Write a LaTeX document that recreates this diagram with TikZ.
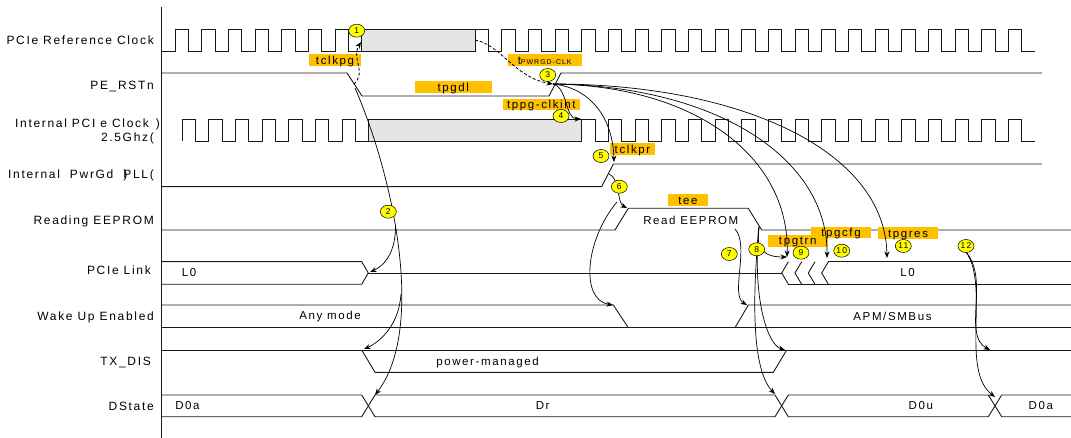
\documentclass[tikz,border=0pt]{standalone}
\usepackage{fontspec}
\setmainfont{Liberation Sans}[LetterSpace=14]
\usetikzlibrary{arrows.meta,shapes.geometric}
\definecolor{TagOrange}{HTML}{FFC000}
\definecolor{StepYellow}{HTML}{FFFF00}

\begin{document}
\begin{tikzpicture}[x=1pt, y=-1pt,
      sig/.style={line width=0.9pt, black!90},
      gated/.style={sig, fill=black!10},
      rowlab/.style={anchor=east, inner sep=0pt, text height=8.6pt, text depth=0pt,
                     font=\fontsize{12}{14}\selectfont},
      buslab/.style={inner sep=0pt, text height=8.2pt, text depth=0pt,
                     font=\fontsize{11.5}{13}\selectfont},
      tbox/.style={fill=TagOrange, inner sep=0pt, minimum height=12pt,
                   text height=8.2pt, text depth=0pt, font=\fontsize{11.5}{13}\selectfont},
      stepno/.style={draw, ellipse, fill=StepYellow, line width=0.5pt, inner sep=0pt,
                     minimum width=16pt, minimum height=13pt,
                     font=\fontsize{8.5}{9}\selectfont},
      ar/.style={-{Stealth[length=6.5pt,width=5pt]}, line width=0.7pt},
      dar/.style={ar, line width=0.8pt, dash pattern=on 3pt off 2pt},
    ]
      \useasboundingbox (0,0) rectangle (1071,438);
      \draw[sig] (161,7) -- (161,438);

      \node[rowlab] (l-refclk) at (154,40) {PCIe Reference Clock};
      \node[rowlab] (l-rst) at (154,85) {PE\_RSTn};
      \node[rowlab] (l-iclk) at (160,123) {Internal PCI e Clock\hspace{7pt})};
      \node[rowlab] (l-iclk2) at (154,137) {2.5Ghz(};
      \node[rowlab] (l-pll) at (154,174.5) {Internal\ \ PwrGd\ \ \rlap{)}PLL(};
      \node[rowlab] (l-ee) at (154,220.5) {Reading EEPROM};
      \node[rowlab] (l-link) at (151,270) {PCIe Link};
      \node[rowlab] (l-wake) at (154,316) {Wake Up Enabled};
      \node[rowlab] (l-txdis) at (151,361) {TX\_DIS};
      \node[rowlab] (l-dstate) at (154,406) {DState};

      \draw[sig] (161,51) foreach \k in {0,...,6} { -- ({175+26.667*\k},51) -- ++(0,-22) -- ++(13.333,0) -- ++(0,22) } -- (361.7,51);
      \draw[gated] (361.7,29) rectangle (475,51);
      \draw[sig] (475,29) foreach \k in {0,...,19} { -- ({488.33+26.667*\k},29) -- ++(0,22) -- ++(13.333,0) -- ++(0,-22) } -- (1021.7,29) -- ++(0,22) -- (1035,51);

      \draw[sig] (161,73) -- (347,73) -- (362,96) -- (549,96) -- (561,73) -- (1042,73);

      \draw[sig] (182,141) foreach \k in {0,...,6} { -- ({182+26.667*\k},141) -- ++(0,-22) -- ++(13.333,0) -- ++(0,22) } -- (368.3,141);
      \draw[gated] (368.3,119) rectangle (581.7,141);
      \draw[sig] (581.7,119) foreach \k in {0,...,15} { -- ({595+26.667*\k},119) -- ++(0,22) -- ++(13.333,0) -- ++(0,-22) } -- (1021.7,119) -- ++(0,22) -- (1035,141);

      \draw[sig] (161,186.7) -- (601.7,186.7) -- (613.3,164) -- (1042,164);
      \draw[sig] (161,230) -- (615,230) -- (628.3,208.3) -- (748.3,208.3) -- (761.7,230) -- (1071,230);

      \draw[sig] (161,261.7) -- (361.7,261.7) -- (368.3,273) -- (361.7,284.3) -- (161,284.3);
      \draw[sig] (368.3,273) -- (781.7,273);
      \foreach \x in {781.7,795,808.3,821.7}
        \draw[sig] (\x+6.7,261.7) -- (\x,273) -- (\x+6.7,284.3);
      \draw[sig] (788.3,284.3) -- (1071,284.3);
      \draw[sig] (828.3,261.7) -- (1071,261.7);

      \draw[sig] (161,327.7) -- (1071,327.7);
      \draw[sig] (161,305) -- (613.3,305) -- (628.3,327.7);
      \draw[sig] (735,327.7) -- (748.3,305) -- (1071,305);

      \draw[sig] (161,350) -- (1071,350);
      \draw[sig] (361.7,350) -- (375,372.3) -- (773.3,372.3) -- (786.7,350);

      \draw[sig] (161,395) -- (361.7,395) -- (375,416.7) -- (775,416.7) -- (788.3,395) -- (988.3,395) -- (1001.7,416.7) -- (1071,416.7);
      \draw[sig] (161,416.7) -- (361.7,416.7) -- (375,395) -- (775,395) -- (788.3,416.7) -- (988.3,416.7) -- (1001.7,395) -- (1071,395);

      \node[buslab] (t-l0a) at (189,272.7) {L0};
      \node[buslab] (t-l0b) at (907.5,272.7) {L0};
      \node[buslab] (t-read) at (690.8,220) {Read EEPROM};
      \node[buslab] (t-any) at (330,315.7) {Any mode};
      \node[buslab] (t-apm) at (892.5,316) {APM/SMBus};
      \node[buslab] (t-pm) at (487.5,361) {power-managed};
      \node[buslab] (t-d0a) at (187.5,405.5) {D0a};
      \node[buslab] (t-dr) at (542.7,405.5) {Dr};
      \node[buslab] (t-d0u) at (920.8,405.5) {D0u};
      \node[buslab] (t-d0a2) at (1040.8,405.5) {D0a};

      \node[tbox, minimum width=52pt] (g-clkpg) at (335,60) {tclkpg};
      \node[tbox, minimum width=74pt] (g-pwrgd) at (544.7,60.2) {t{\fontsize{7}{8}\selectfont PWRGD-CLK}};
      \node[tbox, minimum width=76.7pt] (g-pgdl) at (453.3,87.5) {tpgdl};
      \node[tbox, minimum width=77.3pt, minimum height=11pt] (g-ppg) at (541.3,104.5) {tppg-clkint};
      \node[tbox, minimum width=45pt] (g-clkpr) at (632.5,149.2) {tclkpr};
      \node[tbox, minimum width=39.4pt] (g-ee) at (688,200) {tee};
      \node[tbox, minimum width=60pt] (g-pgtrn) at (797.7,240.8) {tpgtrn};
      \node[tbox, minimum width=60pt, minimum height=11pt] (g-pgcfg) at (841,232.3) {tpgcfg};
      \node[tbox, minimum width=59.4pt] (g-pgres) at (908,233.2) {tpgres};

      \coordinate (rst-fall) at (354,84);
      \coordinate (rst-low) at (355,88);
      \coordinate (rclk-stop) at (361,42);
      \coordinate (rclk-run) at (475,40);
      \coordinate (rst-rise) at (553,84);
      \coordinate (iclk-run) at (581,119);
      \coordinate (pll-top) at (614,162);
      \coordinate (pll-rise) at (609,174);
      \coordinate (ee-rise) at (627,208);
      \coordinate (ee-low) at (617,202);
      \coordinate (wake-fall) at (613,305);
      \coordinate (ee-txt) at (735,229);
      \coordinate (wake-rise) at (747,305);
      \coordinate (ee-fall) at (759,227);
      \coordinate (link-trn) at (787,257);
      \coordinate (link-cfg) at (827,258);
      \coordinate (link-res) at (887,258);
      \coordinate (tx-rise) at (785,350);
      \coordinate (ds-x2) at (775,394);
      \coordinate (ds-x1) at (375,395);
      \coordinate (s2-out) at (395.5,225);
      \coordinate (link-x) at (370,272);
      \coordinate (s2-low) at (401,294);
      \coordinate (tx-fall) at (364,349);
      \coordinate (s12-out) at (966,252);
      \coordinate (tx-late) at (990,350);
      \coordinate (ds-x3) at (995,397);

      \draw[dar] (rst-fall) .. controls (367,72) and (351,58) .. (rclk-stop);
      \draw[dar] (rclk-run) .. controls (500,44) and (515,78) .. (rst-rise);
      \draw[ar] (rst-rise) .. controls (568,88) and (565,119) .. (iclk-run);
      \draw[ar] (rst-rise) .. controls (592,88) and (613,120) .. (pll-top);
      \draw[ar] (rst-rise) .. controls (700,86) and (790,160) .. (link-trn);
      \draw[ar] (rst-rise) .. controls (720,86) and (828,160) .. (link-cfg);
      \draw[ar] (rst-rise) .. controls (740,84) and (885,150) .. (link-res);
      \draw[ar] (rst-low) .. controls (395,180) and (425,330) .. (ds-x1);
      \draw[ar] (s2-out) .. controls (396,250) and (386,265) .. (link-x);
      \draw[ar] (s2-low) .. controls (399,325) and (380,342) .. (tx-fall);
      \draw[ar] (pll-rise) .. controls (620,178) and (617,203) .. (ee-rise);
      \draw[ar] (ee-low) .. controls (585,240) and (580,300) .. (wake-fall);
      \draw[ar] (ee-txt) .. controls (750,245) and (730,295) .. (wake-rise);
      \draw[ar] (ee-fall) .. controls (755,250) and (765,257) .. (link-trn);
      \draw[ar] (ee-fall) .. controls (752,300) and (768,345) .. (tx-rise);
      \draw[ar] (ee-fall) .. controls (752,300) and (752,370) .. (ds-x2);
      \draw[ar] (s12-out) .. controls (990,280) and (962,335) .. (tx-late);
      \draw[ar] (s12-out) .. controls (990,285) and (960,370) .. (ds-x3);

      \node[stepno] (s1) at (356.7,30.7) {1};
      \node[stepno] (s2) at (388.3,211.7) {2};
      \node[stepno] (s3) at (547.7,75) {3};
      \node[stepno] (s4) at (561,116) {4};
      \node[stepno] (s5) at (601,156) {5};
      \node[stepno] (s6) at (619.3,186.7) {6};
      \node[stepno] (s7) at (729.3,254) {7};
      \node[stepno] (s8) at (756.7,249.3) {8};
      \node[stepno] (s9) at (801,252.7) {9};
      \node[stepno] (s10) at (841.7,250.7) {10};
      \node[stepno] (s11) at (903.3,246) {11};
      \node[stepno] (s12) at (966,246) {12};
    \end{tikzpicture}
\end{document}
